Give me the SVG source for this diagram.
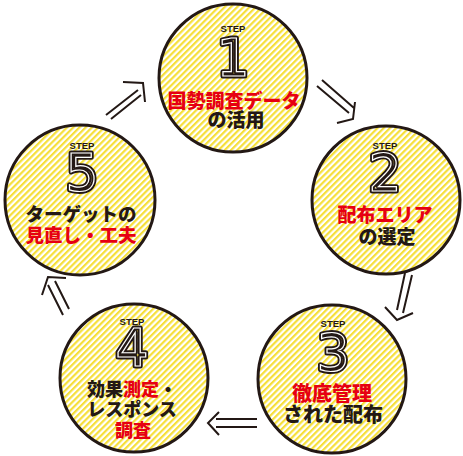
<svg xmlns="http://www.w3.org/2000/svg" width="463" height="456" viewBox="0 0 463 456">
<defs>
<pattern id="stripes" patternUnits="userSpaceOnUse" width="4.4" height="4.4" patternTransform="rotate(45)">
<rect x="0" y="0" width="4.4" height="4.4" fill="#ffffff"/>
<rect x="0" y="0" width="2.2" height="4.4" fill="#f6df3a"/>
</pattern>
<style>
.c{fill:url(#stripes);stroke:#231815;stroke-width:3}
.step{font-family:"Liberation Sans",Arial,sans-serif;font-weight:bold;font-size:9.5px;fill:#231815;text-anchor:middle}
.num{font-family:"DejaVu Sans","Noto Sans",sans-serif;font-size:52px;text-anchor:middle;fill:none}
.numo{stroke:#231815;stroke-width:5;stroke-linejoin:round}
.numi{stroke:#ffffff;stroke-width:1.2}
.jp{font-family:"Noto Sans CJK JP","Noto Sans CJK SC",sans-serif;font-weight:900;text-anchor:middle;fill:#231815}
.r{fill:#e60012}
.arr{fill:none;stroke:#231815;stroke-width:2}
</style>
</defs>
<g id="connectors">
<path class="arr" d="M106,115 L138,90 M111,119 L141,95 M123,82 L143,83 L145,102"/>
<path class="arr" d="M317,86 L349,113 M322,80 L354,108 M337,123 L353,119 L355,102"/>
<path class="arr" d="M405,273 L397,310 M412,275 L403,313 M385,307 L397,320 L413,313"/>
<path class="arr" d="M216,419 L257,419 M216,427 L257,427 M219,412 L208,423 L219,435"/>
<path class="arr" d="M48,285 L63,315 M55,281 L69,309 M42,295 L48,277 L66,278"/>
</g>
<g id="step1">
<circle class="c" cx="233" cy="78" r="74"/>
<text class="step" x="233" y="32">STEP</text>
<text class="num numo" x="233" y="76">1</text>
<text class="num numi" x="233" y="76">1</text>
<text class="jp r" x="234" y="108" font-size="19">国勢調査データ</text>
<text class="jp" x="236" y="127" font-size="19">の活用</text>
</g>
<g id="step2">
<circle class="c" cx="386" cy="200" r="74"/>
<text class="step" x="385" y="149">STEP</text>
<text class="num numo" x="385" y="191">2</text>
<text class="num numi" x="385" y="191">2</text>
<text class="jp r" x="385" y="222" font-size="19">配布エリア</text>
<text class="jp" x="387" y="244" font-size="19">の選定</text>
</g>
<g id="step3">
<circle class="c" cx="332" cy="379" r="74"/>
<text class="step" x="333" y="327">STEP</text>
<text class="num numo" x="333" y="371">3</text>
<text class="num numi" x="333" y="371">3</text>
<text class="jp r" x="332" y="401" font-size="20">徹底管理</text>
<text class="jp" x="333" y="422" font-size="20">された配布</text>
</g>
<g id="step4">
<circle class="c" cx="134" cy="378" r="74"/>
<text class="step" x="132" y="325">STEP</text>
<text class="num numo" x="132" y="366">4</text>
<text class="num numi" x="132" y="366">4</text>
<text class="jp" x="132" y="396" font-size="18">効果<tspan class="r">測定</tspan>・</text>
<text class="jp" x="132" y="416" font-size="18">レスポンス</text>
<text class="jp r" x="133" y="437" font-size="18">調査</text>
</g>
<g id="step5">
<circle class="c" cx="80" cy="200" r="75"/>
<text class="step" x="82" y="149">STEP</text>
<text class="num numo" x="82" y="191">5</text>
<text class="num numi" x="82" y="191">5</text>
<text class="jp" x="81" y="221" font-size="18.5">ターゲットの</text>
<text class="jp r" x="81" y="242" font-size="18.5">見直し・工夫</text>
</g>
</svg>
